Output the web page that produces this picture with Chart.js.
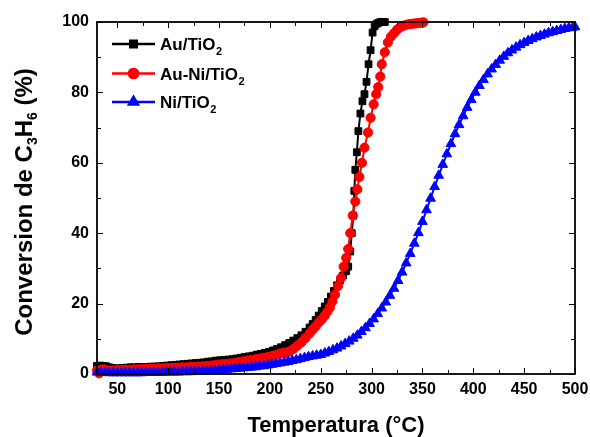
<!DOCTYPE html>
<html>
<head>
<meta charset="utf-8">
<script src="https://cdn.jsdelivr.net/npm/chart.js@4/dist/chart.umd.min.js"></script>
<style>
html,body{margin:0;padding:0;background:#fff;}
#wrap{width:590px;height:437px;}
</style>
</head>
<body>
<div id="wrap"><canvas id="c" width="590" height="437"></canvas></div>
<script>
// ---------- data ----------
const xTickLabels = [50,100,150,200,250,300,350,400,450,500];
const yTickLabels = [0,20,40,60,80,100];

const auTiO2_T = [30,33,36,39,42,45,48,51,55,59,63,67,71,75,79,83,87,91,95,99,103,107,111,115,119,123,127,131,135,139,143,147,151,155,159,163,167,171,175,179,183,187,191,195,199,203,207,211,215,219,223,227,231,235,239,242,245,248,251,254,257,260,263,266,269,272,275,277,279,280.5,282,283,284,285.5,287,289,291,293,295,297,299,301,303,305,307,309,311,313];
const auTiO2_Y = [2.3,2.4,2.3,2.2,1.9,1.7,1.6,1.6,1.7,1.8,1.9,1.9,2.0,2.0,2.0,2.1,2.1,2.2,2.3,2.4,2.5,2.6,2.7,2.8,2.9,3.0,3.1,3.2,3.3,3.5,3.6,3.8,3.9,4.0,4.1,4.2,4.4,4.6,4.8,5.0,5.2,5.5,5.7,6.0,6.3,6.7,7.1,7.6,8.2,8.8,9.5,10.2,11.0,12.0,13.2,14.2,15.4,16.6,17.9,19.2,20.5,22.0,23.6,25.2,26.6,28.0,29.2,30.5,34.8,40,45,52,58,63,69,74,77.5,79.5,83,88,92,97,98.8,99.5,99.8,100,100,100];

const auNiTiO2_T = [30,32,34,37,40,43,46,50,54,58,62,66,70,74,78,82,86,90,94,98,102,106,110,114,118,122,126,130,134,138,142,146,150,154,158,162,166,170,174,178,182,186,190,194,198,202,206,210,214,216,219,223,227,231,235,239,242,245,248,251,254,256.5,259,261.5,264,267,270,272.5,275,277,279,281.5,284,286,288,290.5,293,296.5,299,302,304.5,306.5,308.5,310,313,316,319,322,325,328,331,334,337,340,343,346,349,351];
const auNiTiO2_Y = [1.0,0.2,1.2,1.3,1.0,0.9,1.0,1.1,1.1,1.2,1.2,1.3,1.3,1.4,1.4,1.5,1.5,1.6,1.6,1.7,1.7,1.8,1.8,1.9,1.9,2.0,2.0,2.1,2.2,2.3,2.4,2.5,2.7,2.8,2.9,3.0,3.2,3.4,3.6,3.8,4.0,4.2,4.4,4.6,4.8,5.1,5.4,5.8,6.1,5.9,6.4,7.1,8.0,9.0,10.2,11.5,12.6,13.5,14.6,15.5,16.6,17.7,18.9,20.6,22.5,25.0,27.3,30.5,33.0,35.5,40.0,45.0,49.0,52.5,56,60,64.3,68.6,72.8,76.6,79.5,81.5,84.5,88,91.4,94.2,95.8,96.8,97.8,98.5,98.9,99.2,99.4,99.5,99.6,99.7,99.8,99.9];

const niTiO2_T = [30,34,38,42,46,50,54,58,62,66,70,74,78,82,86,90,94,98,102,106,110,114,118,122,126,130,134,138,142,146,150,154,158,162,166,170,174,178,182,186,190,194,198,202,206,210,214,218,222,226,230,234,238,242,246,250,254,258,262,266,270,274,278,282,286,290,294,298,302,306,310,314,318,322,326,330,334,338,342,346,350,354,358,362,366,370,374,378,382,386,390,394,398,402,406,410,414,418,422,426,430,434,438,442,446,450,454,458,462,466,470,474,478,482,486,490,494,498,500];
const niTiO2_Y = [0.5,0.4,0.4,0.3,0.3,0.3,0.3,0.3,0.3,0.3,0.3,0.3,0.4,0.4,0.4,0.4,0.4,0.5,0.5,0.5,0.5,0.6,0.6,0.6,0.7,0.7,0.8,0.9,0.9,1.0,1.1,1.2,1.3,1.4,1.5,1.6,1.7,1.8,1.9,2.0,2.2,2.3,2.5,2.7,2.9,3.1,3.3,3.5,3.8,4.0,4.3,4.6,4.9,5.1,5.3,5.5,5.9,6.3,6.8,7.3,7.9,8.6,9.3,10.1,11.0,12.0,13.1,14.3,15.6,17.1,18.7,20.4,22.3,24.3,26.5,28.9,31.5,34.2,37.1,40.1,43.3,46.6,49.9,53.2,56.4,59.5,62.5,65.4,68.2,70.8,73.3,75.7,77.9,80.0,81.9,83.6,85.2,86.6,87.9,89.1,90.2,91.2,92.0,92.8,93.5,94.1,94.7,95.2,95.7,96.1,96.5,96.9,97.2,97.5,97.8,98.1,98.3,98.5,98.6];

const seriesNames = ['Au/TiO', 'Au-Ni/TiO', 'Ni/TiO'];
const seriesSub = ['2','2','2'];
const seriesColors = ['#000000', '#ff0000', '#0000ff'];
const seriesStyles = ['rect', 'circle', 'triangle'];

// ---------- chart ----------
const FONT = '"Liberation Sans", Arial, sans-serif';
const pts = (T, Y) => T.map((t, i) => ({x: t, y: Y[i]}));

function ds(i, T, Y, radius, order) {
  return {
    label: seriesNames[i] + seriesSub[i],
    data: pts(T, Y),
    borderColor: seriesColors[i],
    backgroundColor: seriesColors[i],
    pointBackgroundColor: seriesColors[i],
    pointBorderColor: seriesColors[i],
    pointStyle: seriesStyles[i],
    pointRadius: radius,
    pointBorderWidth: 1,
    borderWidth: 2,
    tension: 0,
    clip: false,
    order: order
  };
}

function drawRich(ctx, segs, x, y) {
  let w = 0;
  segs.forEach(s => { ctx.font = 'bold ' + s.size + 'px ' + FONT; s.w = ctx.measureText(s.t).width; w += s.w; });
  let cx = x - w / 2;
  ctx.textAlign = 'left';
  ctx.textBaseline = 'alphabetic';
  segs.forEach(s => { ctx.font = 'bold ' + s.size + 'px ' + FONT; ctx.fillText(s.t, cx, y + (s.dy || 0)); cx += s.w; });
}

const decor = {
  id: 'decor',
  afterDraw(chart) {
    const ctx = chart.ctx;
    const a = chart.chartArea;
    const xs = chart.scales.x, ys = chart.scales.y;
    ctx.save();
    ctx.fillStyle = '#000';
    ctx.strokeStyle = '#000';
    ctx.lineWidth = 1;
    const majL = 6, minL = 4;
    ctx.beginPath();
    for (let v = 50; v <= 500; v += 25) {
      const px = Math.round(xs.getPixelForValue(v)) + 0.5;
      const L = (v % 50 === 0) ? majL : minL;
      ctx.moveTo(px, a.bottom); ctx.lineTo(px, a.bottom - L);
      ctx.moveTo(px, a.top); ctx.lineTo(px, a.top + L);
    }
    for (let v = 0; v <= 100; v += 10) {
      const py = Math.round(ys.getPixelForValue(v)) + 0.5;
      const L = (v % 20 === 0) ? majL : minL;
      ctx.moveTo(a.left, py); ctx.lineTo(a.left + L, py);
      ctx.moveTo(a.right, py); ctx.lineTo(a.right - L, py);
    }
    ctx.stroke();
    ctx.lineWidth = 1.8;
    ctx.strokeRect(a.left, a.top, a.right - a.left, a.bottom - a.top);

    // legend
    const rows = [44, 73.5, 102];
    const lx0 = 112, lx1 = 155, mx = 133.5, tx = 160;
    rows.forEach((ry, i) => {
      ctx.strokeStyle = seriesColors[i];
      ctx.fillStyle = seriesColors[i];
      ctx.lineWidth = 2.5;
      ctx.beginPath(); ctx.moveTo(lx0, ry); ctx.lineTo(lx1, ry); ctx.stroke();
      const r = (i === 0) ? 4.6 : (i === 1 ? 4.6 : 5.2);
      Chart.helpers.drawPoint(ctx, {pointStyle: seriesStyles[i], radius: r, rotation: 0, borderWidth: 1}, mx, ry);
      ctx.fill();
      ctx.fillStyle = '#000';
      ctx.textAlign = 'left';
      ctx.textBaseline = 'alphabetic';
      ctx.font = 'bold 17px ' + FONT;
      ctx.fillText(seriesNames[i], tx, ry + 6);
      const w = ctx.measureText(seriesNames[i]).width;
      ctx.font = 'bold 11px ' + FONT;
      ctx.fillText(seriesSub[i], tx + w + 0.5, ry + 11);
    });

    // x title
    ctx.fillStyle = '#000';
    drawRich(ctx, [{t: 'Temperatura (°C)', size: 22}], (a.left + a.right) / 2, 432);

    // y title (rotated)
    ctx.save();
    ctx.translate(32, (a.top + a.bottom) / 2 + 4);
    ctx.rotate(-Math.PI / 2);
    drawRich(ctx, [
      {t: 'Conversion de C', size: 24},
      {t: '3', size: 14, dy: 5},
      {t: 'H', size: 24},
      {t: '6', size: 14, dy: 5},
      {t: ' (%)', size: 24}
    ], 0, 0);
    ctx.restore();
    ctx.restore();
  }
};

new Chart(document.getElementById('c'), {
  type: 'line',
  data: {
    datasets: [
      ds(0, auTiO2_T, auTiO2_Y, 4.8, 3),
      ds(1, auNiTiO2_T, auNiTiO2_Y, 4.6, 2),
      ds(2, niTiO2_T, niTiO2_Y, 5.6, 1)
    ]
  },
  options: {
    responsive: false,
    animation: false,
    devicePixelRatio: 1,
    layout: {padding: {top: 22, right: 15, left: 0, bottom: 0}},
    plugins: {legend: {display: false}, tooltip: {enabled: false}},
    scales: {
      x: {
        type: 'linear', min: 30, max: 500,
        grid: {display: false, drawTicks: false},
        border: {display: false},
        afterBuildTicks: s => { s.ticks = xTickLabels.map(v => ({value: v})); },
        afterFit: s => { s.height = 63; s.paddingRight = 0; s.paddingLeft = 0; },
        ticks: {autoSkip: false, maxRotation: 0, padding: 6, color: '#000', font: {family: FONT, size: 16, weight: 'bold'}}
      },
      y: {
        type: 'linear', min: 0, max: 100,
        grid: {display: false, drawTicks: false},
        border: {display: false},
        afterBuildTicks: s => { s.ticks = yTickLabels.map(v => ({value: v})); },
        afterFit: s => { s.width = 97; s.paddingTop = 0; s.paddingBottom = 0; },
        ticks: {padding: 8, color: '#000', font: {family: FONT, size: 16, weight: 'bold'}}
      }
    }
  },
  plugins: [decor]
});
</script>
</body>
</html>
